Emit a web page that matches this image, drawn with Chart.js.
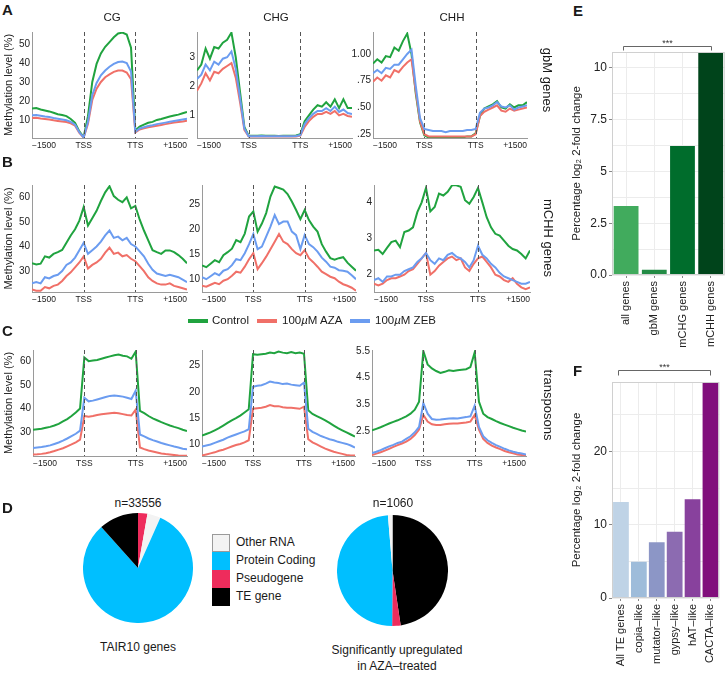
<!DOCTYPE html>
<html><head><meta charset="utf-8">
<script src="https://cdn.jsdelivr.net/npm/chart.js@4.4.1/dist/chart.umd.min.js"></script>
<style>
body{margin:0;width:727px;height:673px;position:relative;overflow:hidden;background:#fff;font-family:"Liberation Sans",Arial,Helvetica,sans-serif;color:#1a1a1a}
canvas{position:absolute}
.t{position:absolute;white-space:nowrap;line-height:1}
.lab{font-weight:bold;font-size:15px}
.c{transform:translate(-50%,-50%)}
.r{transform:translate(-50%,-50%) rotate(90deg)}
.sw{position:absolute;height:4px}
.bx{position:absolute;width:18px;height:18px;box-sizing:border-box}
</style></head><body>
<script>
// ---------------- DATA ----------------
const xTickIdx = [0, 12, 24, 36];
const xTickLabels = ['\u22121500', 'TSS', 'TTS', '+1500'];
const seriesNames = ['Control', '100\u00b5M AZA', '100\u00b5M ZEB'];

// A: gbM genes
const gbmCgControl = [16.0,16.3,15.5,15.0,14.5,13.8,13.0,12.6,12.0,10.5,8.5,4.0,1.0, 12.0,30.0,39.5,45.0,48.5,51.0,53.5,55.5,56.0,55.0,48.0,4.5, 6.5,7.5,8.5,9.0,10.0,10.5,11.2,11.8,12.3,12.8,13.5,14.2];
const gbmCgAza     = [11.0,11.2,10.8,10.5,10.2,9.8,9.5,9.2,8.9,8.2,7.0,3.2,0.7, 8.0,20.5,26.5,30.0,32.5,34.0,35.3,36.0,36.0,35.0,31.5,3.4, 5.0,5.6,6.2,6.6,7.0,7.4,7.8,8.2,8.6,8.9,9.2,9.6];
const gbmCgZeb     = [12.5,12.6,12.2,11.8,11.5,11.0,10.6,10.2,9.8,9.0,7.5,3.5,0.8, 9.0,23.0,29.5,33.5,36.0,38.0,39.5,40.5,40.8,40.0,35.5,3.8, 5.5,6.2,6.8,7.2,7.8,8.2,8.6,9.0,9.4,9.8,10.2,10.6];
const gbmChgControl = [2.55,2.75,3.3,2.95,3.35,3.3,3.5,3.6,3.85,3.0,1.8,0.6,0.3, 0.3,0.3,0.31,0.3,0.3,0.3,0.29,0.3,0.3,0.3,0.31,0.35, 0.8,1.0,1.2,1.35,1.3,1.45,1.3,1.55,1.25,1.55,1.25,1.25];
const gbmChgAza     = [1.85,2.1,2.45,2.2,2.5,2.45,2.6,2.7,2.8,2.3,1.45,0.5,0.27, 0.27,0.27,0.27,0.27,0.27,0.27,0.27,0.27,0.27,0.27,0.27,0.3, 0.6,0.8,0.95,1.05,1.05,1.12,1.05,1.15,1.0,1.05,0.98,0.95];
const gbmChgZeb     = [2.25,2.4,2.75,2.55,2.85,2.75,2.95,3.0,3.2,2.6,1.6,0.55,0.28, 0.28,0.28,0.29,0.28,0.28,0.28,0.28,0.28,0.28,0.28,0.29,0.32, 0.7,0.9,1.05,1.15,1.15,1.25,1.15,1.3,1.12,1.2,1.08,1.05];
const gbmChhControl = [0.91,0.95,0.92,0.98,0.97,1.06,1.03,1.12,1.19,1.0,0.63,0.36,0.24, 0.22,0.22,0.22,0.22,0.22,0.22,0.22,0.22,0.22,0.23,0.23,0.26, 0.42,0.49,0.51,0.53,0.56,0.5,0.49,0.53,0.5,0.52,0.52,0.55];
const gbmChhAza     = [0.74,0.78,0.75,0.8,0.78,0.85,0.83,0.88,0.92,0.95,0.65,0.37,0.25, 0.23,0.23,0.23,0.23,0.23,0.23,0.23,0.23,0.23,0.23,0.23,0.25, 0.42,0.46,0.48,0.5,0.52,0.47,0.46,0.49,0.47,0.48,0.49,0.5];
const gbmChhZeb     = [0.82,0.85,0.82,0.87,0.86,0.9,0.9,0.95,1.0,1.04,0.7,0.4,0.3, 0.29,0.28,0.28,0.28,0.27,0.28,0.28,0.28,0.28,0.29,0.29,0.3, 0.45,0.49,0.5,0.52,0.55,0.51,0.5,0.52,0.48,0.5,0.51,0.52];

// B: mCHH genes
const mchhCgControl = [33.2,32.7,33.0,36.0,35.5,37.0,37.7,38.6,41.5,44.5,47.0,50.5,56.0, 48.5,51.5,54.5,58.5,62.0,64.5,60.5,59.0,58.0,60.0,55.5,56.5, 51.0,46.5,42.5,38.5,37.7,37.0,38.4,38.4,37.7,36.5,35.0,33.2];
const mchhCgAza     = [22.5,22.0,22.0,23.5,23.0,24.0,24.5,26.0,28.0,29.5,31.5,33.5,36.0, 31.0,32.5,33.5,35.0,37.5,39.5,37.0,37.5,36.0,36.5,35.0,34.0, 32.0,30.0,27.5,26.0,25.0,24.5,24.5,25.0,24.0,23.5,23.0,22.5];
const mchhCgZeb     = [25.0,25.5,25.0,27.5,27.0,28.0,28.5,30.0,32.5,33.5,35.5,38.5,41.5, 37.0,38.5,40.0,42.0,44.5,46.5,43.5,44.0,42.5,43.5,41.0,40.0, 38.0,36.0,33.0,30.5,29.0,28.5,28.0,28.5,28.0,27.5,26.5,25.5];
const mchhChgControl = [12.75,12.4,13.1,13.8,13.4,14.8,15.4,16.1,17.8,17.4,19.1,22.5,23.5, 19.5,21.1,23.2,26.5,28.5,28.2,27.9,27.0,25.5,23.8,22.0,23.8, 21.8,20.5,19.5,17.0,15.5,14.2,13.9,14.2,14.4,13.3,12.5,11.7];
const mchhChgAza     = [8.7,8.5,8.9,9.3,9.0,9.7,10.0,10.7,11.5,11.3,12.5,14.0,15.2, 12.0,13.2,14.5,16.0,17.5,19.0,17.5,17.0,16.0,15.2,14.8,15.8, 14.2,13.4,12.5,11.5,11.0,10.5,10.2,9.5,9.0,8.7,8.3,7.7];
const mchhChgZeb     = [10.4,10.0,10.6,11.2,10.8,11.7,12.0,12.8,14.0,13.8,15.2,17.0,19.0, 16.0,16.5,18.5,20.5,22.8,21.0,21.5,21.5,19.5,18.8,16.0,18.8, 17.0,16.4,15.5,14.3,13.5,12.5,12.3,11.8,11.7,11.5,10.8,10.0];
const mchhChhControl = [2.67,2.69,2.57,2.74,2.9,2.94,2.76,3.18,3.22,3.31,3.73,4.0,4.4, 3.75,3.87,4.24,4.19,4.29,4.47,4.47,4.43,4.06,3.96,4.15,4.4, 4.0,3.59,3.31,3.13,3.08,2.94,2.8,2.71,2.67,2.57,2.45,2.67];
const mchhChhAza     = [1.75,1.7,1.75,1.85,1.9,1.9,1.95,2.0,2.1,2.15,2.3,2.45,2.6, 2.0,2.1,2.25,2.35,2.45,2.5,2.4,2.45,2.2,2.1,2.3,2.45, 2.5,2.35,2.2,2.0,1.95,1.85,1.8,1.9,1.75,1.65,1.6,1.65];
const mchhChhZeb     = [1.85,1.9,1.8,1.95,1.95,2.0,2.0,2.1,2.15,2.2,2.35,2.45,2.6, 2.4,2.3,2.45,2.4,2.55,2.6,2.5,2.45,2.35,2.2,2.4,2.8, 2.55,2.45,2.3,2.2,2.05,1.95,1.9,1.85,1.8,1.75,1.75,1.8];

// C: transposons
const teCgControl = [31.0,31.2,31.4,31.8,32.2,32.8,33.5,34.5,35.5,36.8,38.3,40.0,61.5, 60.0,60.3,60.5,61.0,61.5,62.0,62.5,62.8,62.3,62.0,61.0,64.0, 39.0,38.0,36.8,35.8,35.0,34.2,33.5,32.8,32.2,31.7,31.0,30.5];
const teCgAza     = [20.5,20.6,20.8,21.1,21.5,22.0,22.6,23.2,24.0,24.8,25.7,26.8,36.8, 36.5,36.8,37.2,37.5,37.8,38.0,38.2,38.0,37.6,37.2,37.0,39.5, 23.5,22.8,22.2,21.8,21.4,21.0,20.7,20.5,20.3,20.1,20.0,20.0];
const teCgZeb     = [23.3,23.5,23.7,24.0,24.4,25.0,25.6,26.4,27.3,28.3,29.3,30.6,44.5, 43.0,43.3,43.8,44.3,44.8,45.3,45.5,45.3,45.0,44.5,44.0,47.5, 29.0,28.2,27.3,26.6,26.0,25.4,24.9,24.4,23.9,23.5,23.0,22.7];
const teChgControl = [11.7,12.0,12.3,12.7,13.1,13.6,14.1,14.6,15.0,15.5,16.1,16.7,27.2, 27.1,27.2,27.3,27.5,27.4,27.7,27.5,27.4,27.6,27.4,27.5,27.3, 16.5,15.8,15.4,15.0,14.6,14.1,13.6,13.1,12.7,12.3,11.9,11.5];
const teChgAza     = [7.9,8.1,8.3,8.5,8.8,9.0,9.3,9.6,9.9,10.1,10.4,10.8,16.8, 16.9,17.0,17.2,17.5,17.3,17.3,17.1,17.0,17.0,16.9,16.8,17.2, 11.0,10.4,10.0,9.6,9.2,8.9,8.6,8.4,8.2,8.0,7.9,7.9];
const teChgZeb     = [9.6,9.8,10.0,10.3,10.6,10.9,11.3,11.6,11.9,12.2,12.5,12.9,21.0, 21.2,21.3,21.6,22.0,21.8,21.7,21.5,21.6,21.4,21.3,21.2,21.8, 13.0,12.4,12.0,11.6,11.3,11.0,10.8,10.5,10.3,10.1,9.8,9.4];
const teChhControl = [2.52,2.58,2.64,2.71,2.78,2.84,2.9,2.97,3.05,3.15,3.3,3.6,5.5, 5.0,4.85,4.75,4.68,4.72,4.78,4.75,4.78,4.8,4.82,4.9,5.45, 3.6,3.15,3.02,2.95,2.87,2.8,2.74,2.68,2.62,2.57,2.52,2.48];
const teChhAza     = [1.6,1.65,1.7,1.76,1.83,1.9,1.97,2.03,2.1,2.2,2.35,2.55,3.1, 2.85,2.75,2.72,2.72,2.75,2.77,2.78,2.78,2.8,2.82,2.85,3.1, 2.55,2.2,2.05,1.95,1.88,1.82,1.75,1.7,1.66,1.62,1.6,1.57];
const teChhZeb     = [1.67,1.72,1.78,1.85,1.92,1.98,2.05,2.1,2.2,2.3,2.45,2.65,3.55, 3.15,2.95,2.92,2.93,2.95,2.97,2.98,2.97,3.0,3.02,3.05,3.45, 2.65,2.3,2.15,2.05,1.97,1.9,1.83,1.77,1.72,1.68,1.65,1.62];

// y tick values / labels
const ticksGbmCg = [10,20,30,40,50],   labelsGbmCg = ['10','20','30','40','50'];
const ticksGbmChg = [1,2,3],           labelsGbmChg = ['1','2','3'];
const ticksGbmChh = [0.25,0.5,0.75,1], labelsGbmChh = ['.25','.50','.75','1.00'];
const ticksMchhCg = [30,40,50,60],     labelsMchhCg = ['30','40','50','60'];
const ticksMchhChg = [10,15,20,25],    labelsMchhChg = ['10','15','20','25'];
const ticksMchhChh = [2,3,4],          labelsMchhChh = ['2','3','4'];
const ticksTeCg = [30,40,50,60],       labelsTeCg = ['30','40','50','60'];
const ticksTeChg = [10,15,20,25],      labelsTeChg = ['10','15','20','25'];
const ticksTeChh = [2.5,3.5,4.5,5.5],  labelsTeChh = ['2.5','3.5','4.5','5.5'];

// D: pies
const pieLabelsAll = ['Pseudogene','Other RNA','Protein Coding','TE gene'];
const pieCountsAll = [924, 1313, 27416, 3903];
const pieLabelsUp  = ['TE gene','Pseudogene','Protein Coding','Other RNA'];
const pieCountsUp  = [505, 26, 515, 14];

// E, F: bars
const eCategories = ['all genes','gbM genes','mCHG genes','mCHH genes'];
const eValues = [3.33, 0.25, 6.23, 10.77];
const eTicks = [0, 2.5, 5, 7.5, 10];
const eTickLabels = ['0.0','2.5','5','7.5','10'];
const fCategories = ['All TE genes','copia\u2013like','mutator\u2013like','gypsy\u2013like','hAT\u2013like','CACTA\u2013like'];
const fValues = [13.1, 4.95, 7.6, 9.05, 13.5, 29.5];
const fTicks = [0, 10, 20];
const fTickLabels = ['0','10','20'];

// ---------------- STYLE / LAYOUT ----------------
const FF = '"Liberation Sans", Arial, Helvetica, sans-serif';
Chart.defaults.font.family = FF;
Chart.defaults.color = '#222';
const C_CTRL = '#20a33f', C_AZA = '#f07068', C_ZEB = '#6b9cf0';
const AXIS = '#9a9a9a';

function mk(l, t, w, h) {
  const c = document.createElement('canvas');
  c.width = w; c.height = h;
  c.style.left = l + 'px'; c.style.top = t + 'px';
  c.style.width = w + 'px'; c.style.height = h + 'px';
  document.body.appendChild(c);
  return c;
}
function txt(html, x, y, cls, size, extra) {
  const d = document.createElement('div');
  d.className = 't ' + (cls || '');
  d.style.left = x + 'px'; d.style.top = y + 'px';
  if (size) d.style.fontSize = size + 'px';
  if (extra) Object.assign(d.style, extra);
  d.innerHTML = html;
  document.body.appendChild(d);
  return d;
}

const tssPlugin = {
  id: 'tss',
  afterDatasetsDraw(chart) {
    const {ctx, chartArea: a, scales: {x}} = chart;
    ctx.save();
    ctx.strokeStyle = '#555'; ctx.lineWidth = 1; ctx.setLineDash([4, 3]);
    [xTickIdx[1], xTickIdx[2]].forEach(v => {
      const px = Math.round(x.getPixelForValue(v)) + 0.5;
      ctx.beginPath(); ctx.moveTo(px, a.top); ctx.lineTo(px, a.bottom); ctx.stroke();
    });
    ctx.restore();
  }
};

function lineChart(p, yMin, yMax, yTicks, yLabels, ctrl, aza, zeb, withTitle) {
  const cv = mk(p.l - p.yw, p.t - 10, p.yw + p.w + 4, 10 + p.h + 16);
  const pts = a => a.map((v, i) => ({x: i, y: v}));
  new Chart(cv, {
    type: 'line',
    data: {datasets: [
      {label: seriesNames[0], data: pts(ctrl), borderColor: C_CTRL, order: 3},
      {label: seriesNames[1], data: pts(aza), borderColor: C_AZA, order: 2},
      {label: seriesNames[2], data: pts(zeb), borderColor: C_ZEB, order: 1}
    ]},
    options: {
      responsive: false, animation: false, devicePixelRatio: 1,
      layout: {padding: {top: 10, right: 4, left: 0, bottom: 0}},
      elements: {line: {borderWidth: 2, tension: 0, fill: false}, point: {radius: 0}},
      plugins: {legend: {display: false}, tooltip: {enabled: false}},
      scales: {
        x: {type: 'linear', min: 0, max: 36,
          afterBuildTicks: s => { s.ticks = xTickIdx.map(v => ({value: v})); },
          afterFit: s => { s.height = 16; },
          ticks: {align: 'inner', maxRotation: 0, autoSkip: false, padding: 3, color: '#222',
                  font: {size: 8.5}, callback: v => xTickLabels[xTickIdx.indexOf(v)]},
          grid: {display: false, drawTicks: false}, border: {color: AXIS, width: 1}},
        y: {type: 'linear', min: yMin, max: yMax,
          afterBuildTicks: s => { s.ticks = yTicks.map(v => ({value: v})); },
          afterFit: s => { s.width = p.yw; },
          ticks: {padding: 2, color: '#222', font: {size: 10}, callback: v => yLabels[yTicks.indexOf(v)]},
          grid: {display: false, drawTicks: false}, border: {color: AXIS, width: 1},
          title: {display: !!withTitle, text: 'Methylation level (%)', color: '#222', font: {size: 11}, padding: {top: 2, bottom: 0}}}
      }
    },
    plugins: [tssPlugin]
  });
}

// Row A
lineChart({l:32, t:32, w:155, h:106, yw:32}, 0.5, 56.3, ticksGbmCg, labelsGbmCg, gbmCgControl, gbmCgAza, gbmCgZeb, true);
lineChart({l:197, t:32, w:155, h:106, yw:20}, 0.22, 3.87, ticksGbmChg, labelsGbmChg, gbmChgControl, gbmChgAza, gbmChgZeb);
lineChart({l:373, t:32, w:154, h:106, yw:30}, 0.215, 1.205, ticksGbmChh, labelsGbmChh, gbmChhControl, gbmChhAza, gbmChhZeb);
// Row B
lineChart({l:32, t:185, w:155, h:107, yw:32}, 21.5, 65, ticksMchhCg, labelsMchhCg, mchhCgControl, mchhCgAza, mchhCgZeb, true);
lineChart({l:202, t:185, w:154, h:107, yw:25}, 7.45, 28.8, ticksMchhChg, labelsMchhChg, mchhChgControl, mchhChgAza, mchhChgZeb);
lineChart({l:374, t:185, w:156, h:107, yw:25}, 1.52, 4.48, ticksMchhChh, labelsMchhChh, mchhChhControl, mchhChhAza, mchhChhZeb);
// Row C
lineChart({l:33, t:350, w:154, h:106, yw:33}, 19.9, 64.7, ticksTeCg, labelsTeCg, teCgControl, teCgAza, teCgZeb, true);
lineChart({l:202, t:350, w:153, h:106, yw:25}, 7.8, 28.0, ticksTeChg, labelsTeChg, teChgControl, teChgAza, teChgZeb);
lineChart({l:372, t:350, w:154, h:106, yw:27}, 1.56, 5.54, ticksTeChh, labelsTeChh, teChhControl, teChhAza, teChhZeb);

// Pies
const PIE_COL = {'Other RNA': '#f3f3f3', 'Protein Coding': '#00bfff', 'Pseudogene': '#ee2c5c', 'TE gene': '#000000'};
function pie(l, t, d, labels, counts) {
  const cv = mk(l, t, d, d);
  new Chart(cv, {
    type: 'pie',
    data: {labels: labels, datasets: [{data: counts, backgroundColor: labels.map(k => PIE_COL[k]), borderWidth: 0}]},
    options: {responsive: false, animation: false, devicePixelRatio: 1, layout: {padding: 0},
      plugins: {legend: {display: false}, tooltip: {enabled: false}}}
  });
}
pie(83, 513, 110, pieLabelsAll, pieCountsAll);
pie(337, 515, 111, pieLabelsUp, pieCountsUp);

// Bars
const barDecor = {
  id: 'barDecor',
  afterDatasetsDraw(chart, args, o) {
    const {ctx, chartArea: a, scales: {x}} = chart;
    ctx.save();
    ctx.strokeStyle = '#d0d0d0'; ctx.lineWidth = 1;
    ctx.strokeRect(a.left + 0.5, a.top + 0.5, a.right - a.left - 1, a.bottom - a.top - 1);
    const n = chart.data.labels.length;
    const x0 = Math.round(x.getPixelForValue(0)) - 3 + 0.5, x1 = Math.round(x.getPixelForValue(n - 1)) + 0.5;
    const yb = Math.round(a.top - o.gap) + 0.5;
    ctx.strokeStyle = '#666';
    ctx.beginPath(); ctx.moveTo(x0, yb + o.tip); ctx.lineTo(x0, yb); ctx.lineTo(x1, yb); ctx.lineTo(x1, yb + o.tip); ctx.stroke();
    ctx.fillStyle = '#333'; ctx.font = '9px ' + FF; ctx.textAlign = 'center'; ctx.textBaseline = 'alphabetic';
    ctx.fillText('***', (x0 + x1) / 2, yb - 0.5);
    ctx.restore();
  }
};
function barChart(l, t, w, padTop, padRight, plotH, cats, vals, colors, yMax, major, majorLabels, gap, tip) {
  const minor = [];
  for (let i = 0; i < major.length; i++) {
    const step = i + 1 < major.length ? major[i + 1] - major[i] : major[1] - major[0];
    const m = major[i] + step / 2;
    if (m < yMax) minor.push(m);
  }
  const all = major.concat(minor).sort((a, b) => a - b);
  const cv = mk(l, t, w, padTop + plotH + 75);
  new Chart(cv, {
    type: 'bar',
    data: {labels: cats, datasets: [{data: vals, backgroundColor: colors, borderWidth: 0,
      barPercentage: 0.88, categoryPercentage: 1}]},
    options: {
      responsive: false, animation: false, devicePixelRatio: 1,
      layout: {padding: {top: padTop, right: padRight, left: 0, bottom: 0}},
      plugins: {legend: {display: false}, tooltip: {enabled: false}, barDecor: {gap: gap, tip: tip}},
      scales: {
        x: {offset: true, afterFit: s => { s.height = 75; },
          grid: {offset: false, color: '#ececec', tickLength: 3, tickColor: '#888'},
          border: {display: false},
          ticks: {minRotation: 90, maxRotation: 90, autoSkip: false, padding: 3, color: '#222', font: {size: 11}}},
        y: {min: 0, max: yMax,
          afterBuildTicks: s => { s.ticks = all.map(v => ({value: v})); },
          afterFit: s => { s.width = 44; },
          grid: {color: '#ececec', tickLength: 3,
                 tickColor: c => (c.tick && major.includes(c.tick.value)) ? '#888' : 'rgba(0,0,0,0)'},
          border: {display: false},
          ticks: {padding: 2, color: '#222', font: {size: 12},
                  callback: v => { const i = major.indexOf(v); return i >= 0 ? majorLabels[i] : ''; }},
          title: {display: true, text: 'Percentage log\u2082 2-fold change', color: '#222', font: {size: 11.5}, padding: {top: 2, bottom: 0}}}
      }
    },
    plugins: [barDecor]
  });
}
barChart(568, 35, 159, 17, 1, 223, eCategories, eValues, ['#41ab5d','#238b45','#006d2c','#00441b'], 10.77, eTicks, eTickLabels, 6, 4);
barChart(568, 358, 159, 24, 4, 216, fCategories, fValues, ['#bfd3e6','#9ebcda','#8c96c6','#8c6bb1','#88419d','#810f7c'], 29.5, fTicks, fTickLabels, 12, 5);

// ---------------- TEXT ----------------
txt('A', 2, 2, 'lab'); txt('B', 2, 154, 'lab'); txt('C', 2, 323, 'lab'); txt('D', 2, 500, 'lab');
txt('E', 573, 3, 'lab'); txt('F', 573, 363, 'lab');
txt('CG', 112, 18, 'c', 11.5); txt('CHG', 276, 18, 'c', 11.5); txt('CHH', 452, 18, 'c', 11.5);
txt('gbM genes', 547, 80, 'r', 13); txt('mCHH genes', 548, 238, 'r', 13); txt('transposons', 548, 405, 'r', 13);
// line legend
[[188, C_CTRL, 212, seriesNames[0]], [257, C_AZA, 282, '100<i>\u00b5</i>M AZA'], [350, C_ZEB, 375, '100<i>\u00b5</i>M ZEB']].forEach(r => {
  const s = document.createElement('div'); s.className = 'sw';
  s.style.left = r[0] + 'px'; s.style.top = '319px'; s.style.width = '20px'; s.style.background = r[1];
  document.body.appendChild(s);
  txt(r[3], r[2], 321, '', 11.5, {transform: 'translateY(-50%)'});
});
// pie texts
txt('n=33556', 138, 503, 'c', 12); txt('TAIR10 genes', 138, 647, 'c', 12);
txt('n=1060', 393, 503, 'c', 12);
txt('Significantly upregulated', 397, 650, 'c', 12); txt('in AZA\u2013treated', 397, 666, 'c', 12);
// pie legend
['Other RNA', 'Protein Coding', 'Pseudogene', 'TE gene'].forEach((k, i) => {
  const b = document.createElement('div'); b.className = 'bx';
  b.style.left = '212px'; b.style.top = (534 + i * 18) + 'px'; b.style.background = PIE_COL[k];
  if (k === 'Other RNA') b.style.border = '1px solid #9a9a9a';
  document.body.appendChild(b);
  txt(k, 236, 542 + i * 18, '', 12, {transform: 'translateY(-50%)'});
});
</script>
</body></html>
